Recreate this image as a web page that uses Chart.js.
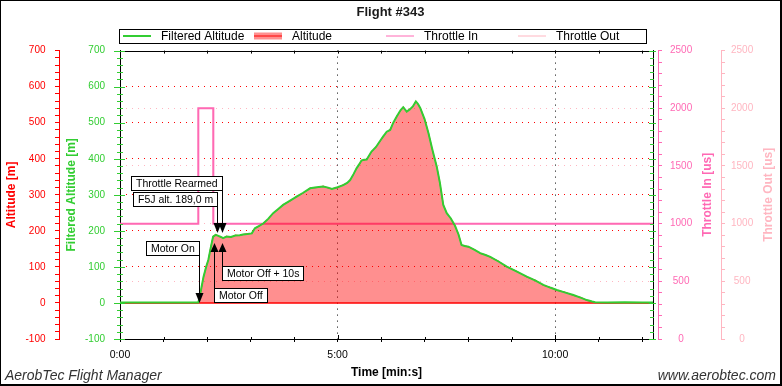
<!DOCTYPE html>
<html>
<head>
<meta charset="utf-8">
<title>Flight #343</title>
<script src="https://cdn.jsdelivr.net/npm/chart.js@4.4.1/dist/chart.umd.min.js"></script>
<style>
  body { margin: 0; background: #fff; }
  #frame {
    position: relative;
    width: 782px;
    height: 386px;
    box-sizing: border-box;
    border: 1px solid #000;
    border-right-width: 2px;
    border-bottom-width: 2px;
    background: #fff;
  }
  #flightChart { display: block; }
  .footer {
    position: absolute;
    top: 366px;
    font: italic 14px "Liberation Sans", Arial, sans-serif;
    line-height: 16px;
    color: #333;
  }
  #footerLeft { left: 4px; }
  #footerRight { right: 4px; }
</style>
</head>
<body>
<div id="frame">
  <canvas id="flightChart" width="779" height="383"></canvas>
  <div class="footer" id="footerLeft">AerobTec Flight Manager</div>
  <div class="footer" id="footerRight">www.aerobtec.com</div>
</div>
<script>
const FONT = '"Liberation Sans", Arial, sans-serif';
const GREEN = "#32cd32";
const RED = "#ff0000";
const PINK = "#ff69b4";
const LIGHT_PINK = "#ffb6c1";
const ALT_FILL = "rgba(255, 0, 0, 0.44)";
const NONE = "rgba(0, 0, 0, 0)";

const timeMax = 12.25; // minutes shown on the x axis

// Flight log, time in minutes
const timeMin = [
  0, 0.5, 1.0, 1.5, 1.80, 1.86, 1.92, 1.98, 2.03, 2.08, 2.14, 2.20, 2.26, 2.32, 2.37,
  2.45, 2.55, 2.65, 2.75, 2.83, 2.93, 3.03, 3.10, 3.20, 3.30,
  3.41, 3.52, 3.63, 3.75, 3.90, 4.06, 4.20, 4.37, 4.52, 4.67,
  4.78, 4.87, 5.00, 5.13, 5.22, 5.29, 5.37, 5.44, 5.50, 5.55,
  5.61, 5.67, 5.78, 5.88, 5.98, 6.05, 6.13, 6.21, 6.28, 6.36,
  6.45, 6.51, 6.59, 6.66, 6.73, 6.80, 6.85, 6.90, 7.00, 7.09,
  7.18, 7.28, 7.35, 7.43, 7.51, 7.60, 7.70, 7.78, 7.85, 7.92,
  8.01, 8.15, 8.28, 8.40, 8.51, 8.70, 8.89, 9.10, 9.35, 9.55,
  9.73, 9.90, 10.04, 10.20, 10.42, 10.60, 10.73, 10.85, 10.92, 11.2,
  11.6, 12.0, 12.25
];
const filteredAltitude = [
  1, 1, 1, 1, 1, 35, 73, 100, 119, 150, 184, 189, 186, 183, 180,
  184, 183, 187, 188, 190, 191, 193, 207, 214, 221,
  234, 249, 260, 272, 283, 295, 305, 318, 321, 323,
  320, 316, 321, 327, 333, 341, 358, 374, 385, 395,
  397, 398, 420, 432, 450, 462, 475, 480, 500, 517,
  535, 543, 531, 537, 545, 559, 552, 541, 510, 471,
  425, 378, 335, 272, 249, 235, 214, 190, 161, 158,
  156, 147, 138, 133, 128, 115, 101, 88, 73, 62,
  50, 42, 36, 30, 22, 14, 8, 4, 2, 1,
  2, 1, 1
];
const altitude = [
  0, 0, 0, 0, 0, 34, 72, 101, 120, 151, 185, 190, 186, 182, 180,
  185, 182, 188, 187, 190, 192, 193, 208, 213, 222,
  233, 250, 259, 273, 282, 296, 304, 319, 320, 324,
  319, 317, 320, 328, 332, 342, 357, 375, 384, 396,
  396, 399, 419, 433, 449, 463, 474, 481, 499, 518,
  534, 544, 530, 538, 544, 560, 551, 542, 509, 472,
  424, 379, 334, 273, 248, 236, 213, 191, 160, 159,
  155, 148, 137, 134, 127, 116, 100, 89, 72, 63,
  49, 43, 35, 31, 21, 15, 7, 4, 1, 0,
  1, 0, 0
];

const throttleTime = [0, 1.80, 1.80, 2.145, 2.145, 12.25];
const throttleIn = [1000, 1000, 2000, 2000, 1000, 1000];
const throttleOut = [1000, 1000, 2000, 2000, 1000, 1000];

const legendLabels = ["Filtered Altitude", "Altitude", "Throttle In", "Throttle Out"];

// Event markers
const markerLabels = ["Motor On", "Motor Off", "Motor Off + 10s", "F5J alt. 189,0 m", "Throttle Rearmed"];
const markerTimes = [1.81, 2.17, 2.34, 2.23, 2.34];
const markerAltitudes = [0, 166, 166, 195, 195];
const markerPointsDown = [true, false, false, true, true];
// vertical distance of each label box from its arrow tip (px)
const markerBoxOffsets = [-62, 45, 23, -41, -57];

function toPoints(xs, ys) {
  return xs.map((x, i) => ({ x: x, y: ys[i] }));
}

function crisp(v) {
  return Math.round(v) + 0.5;
}

function tickFont(size) {
  return { family: FONT, size: size };
}

function titleFont() {
  return { family: FONT, size: 12, weight: "bold" };
}

// grid colour only on round values, skipping the frame edges
function gridAt(step, lo, hi, color) {
  return function (c) {
    const v = c.tick ? c.tick.value : NaN;
    return Math.abs(v % step) < 1e-6 && v > lo && v < hi ? color : NONE;
  };
}

// Ticks drawn across the plot frame, right axis titles, legend box and event markers
const flightExtras = {
  id: "flightExtras",
  afterDraw(chart) {
    const ctx = chart.ctx;
    const area = chart.chartArea;
    ctx.save();
    ctx.lineWidth = 1;

    // top frame line
    ctx.strokeStyle = "#000";
    ctx.beginPath();
    ctx.moveTo(area.left, crisp(area.top));
    ctx.lineTo(area.right, crisp(area.top));
    ctx.stroke();

    // minute ticks pointing into the plot
    const xScale = chart.scales.x;
    ctx.beginPath();
    xScale.ticks.forEach((t) => {
      const px = crisp(xScale.getPixelForValue(t.value));
      const major = t.value % 5 === 0;
      ctx.moveTo(px, area.top);
      ctx.lineTo(px, area.top + 3);
      ctx.moveTo(px, area.bottom);
      ctx.lineTo(px, area.bottom - (major ? 4 : 2));
    });
    ctx.stroke();

    // filtered altitude ticks on both sides of the plot
    const fScale = chart.scales.falt;
    ctx.strokeStyle = GREEN;
    ctx.beginPath();
    fScale.ticks.forEach((t) => {
      const py = crisp(fScale.getPixelForValue(t.value));
      const major = t.value % 100 === 0;
      ctx.moveTo(area.left - (major ? 6 : 3), py);
      ctx.lineTo(area.left + (major ? 5 : 3), py);
      ctx.moveTo(area.right - (major ? 4 : 3), py);
      ctx.lineTo(area.right + (major ? 3 : 1), py);
    });
    ctx.stroke();

    drawRightTitle(chart, chart.scales.thrIn, "Throttle In [us]", PINK, 13.7);
    drawRightTitle(chart, chart.scales.thrOut, "Throttle Out [us]", LIGHT_PINK, 11);
    drawLegend(chart);
    drawMarkers(chart);
    ctx.restore();
  },
};

// right-hand titles read bottom to top, like the left ones
function drawRightTitle(chart, scale, text, color, inset) {
  const ctx = chart.ctx;
  ctx.save();
  ctx.translate(scale.right - inset, (scale.top + scale.bottom) / 2);
  ctx.rotate(-Math.PI / 2);
  ctx.font = "bold 12px " + FONT;
  ctx.fillStyle = color;
  ctx.textAlign = "center";
  ctx.textBaseline = "middle";
  ctx.fillText(text, 0, 0);
  ctx.restore();
}

function drawLegend(chart) {
  const ctx = chart.ctx;
  const area = chart.chartArea;
  const left = Math.round(area.left) - 0.5;
  const top = 28.5;
  const width = Math.round(area.right - area.left) - 6;
  const height = 14;
  const cy = top + 6.5;
  const slot = width / legendLabels.length;

  ctx.fillStyle = "#fff";
  ctx.fillRect(left, top, width, height);
  ctx.strokeStyle = "#000";
  ctx.lineWidth = 1;
  ctx.strokeRect(left, top, width, height);

  ctx.font = "12px " + FONT;
  ctx.textBaseline = "middle";
  ctx.textAlign = "left";
  legendLabels.forEach((label, i) => {
    const x0 = Math.round(left + 3 + i * slot);
    if (i === 0) {
      ctx.strokeStyle = GREEN;
      ctx.lineWidth = 2;
    } else if (i === 1) {
      ctx.fillStyle = ALT_FILL;
      ctx.fillRect(x0, cy - 3.5, 28, 7);
      ctx.strokeStyle = RED;
      ctx.lineWidth = 1;
    } else {
      ctx.strokeStyle = i === 2 ? PINK : LIGHT_PINK;
      ctx.lineWidth = 1;
    }
    ctx.beginPath();
    ctx.moveTo(x0, cy);
    ctx.lineTo(x0 + 28, cy);
    ctx.stroke();
    ctx.fillStyle = "#000";
    ctx.fillText(label, x0 + 38, cy + 0.5);
  });
}

function drawMarkers(chart) {
  const ctx = chart.ctx;
  const xScale = chart.scales.x;
  const yScale = chart.scales.alt;
  ctx.font = "10.5px " + FONT;
  ctx.textBaseline = "middle";
  ctx.textAlign = "left";
  ctx.lineWidth = 1;
  ctx.strokeStyle = "#000";

  markerLabels.forEach((label, i) => {
    const x = crisp(xScale.getPixelForValue(markerTimes[i]));
    const tip = Math.round(yScale.getPixelForValue(markerAltitudes[i]));
    const down = markerPointsDown[i];
    const boxW = Math.round(ctx.measureText(label).width + 9);
    const boxH = 14;
    const boxTop = crisp(tip + markerBoxOffsets[i]);
    const boxLeft = down ? x - boxW : x;

    // stem and arrow head
    ctx.fillStyle = "#000";
    ctx.beginPath();
    if (down) {
      ctx.moveTo(x, boxTop);
      ctx.lineTo(x, tip - 9);
    } else {
      ctx.moveTo(x, tip + 9);
      ctx.lineTo(x, boxTop + boxH);
    }
    ctx.stroke();
    ctx.beginPath();
    if (down) {
      ctx.moveTo(x - 4, tip - 10);
      ctx.lineTo(x + 4, tip - 10);
    } else {
      ctx.moveTo(x - 4, tip + 9);
      ctx.lineTo(x + 4, tip + 9);
    }
    ctx.lineTo(x, tip);
    ctx.closePath();
    ctx.fill();

    // label box
    ctx.fillStyle = "#fff";
    ctx.fillRect(boxLeft, boxTop, boxW, boxH);
    ctx.strokeRect(boxLeft, boxTop, boxW, boxH);
    ctx.fillStyle = "#000";
    ctx.fillText(label, boxLeft + 4.5, boxTop + boxH / 2 + 0.5);
  });
}

const ctx = document.getElementById("flightChart").getContext("2d");

new Chart(ctx, {
  type: "line",
  data: {
    datasets: [
      {
        label: "Filtered Altitude",
        data: toPoints(timeMin, filteredAltitude),
        yAxisID: "falt",
        borderColor: GREEN,
        borderWidth: 2,
        pointRadius: 0,
        fill: false,
      },
      {
        label: "Altitude zero",
        data: toPoints([0, timeMax], [0, 0]),
        yAxisID: "alt",
        borderColor: RED,
        borderWidth: 1.5,
        pointRadius: 0,
        fill: false,
      },
      {
        label: "Altitude",
        data: toPoints(timeMin, altitude),
        yAxisID: "alt",
        borderColor: RED,
        borderWidth: 1,
        backgroundColor: ALT_FILL,
        pointRadius: 0,
        fill: "origin",
      },
      {
        label: "Throttle In",
        data: toPoints(throttleTime, throttleIn),
        yAxisID: "thrIn",
        borderColor: PINK,
        borderWidth: 2,
        pointRadius: 0,
        fill: false,
      },
      {
        label: "Throttle Out",
        data: toPoints(throttleTime, throttleOut),
        yAxisID: "thrOut",
        borderColor: LIGHT_PINK,
        borderWidth: 1,
        pointRadius: 0,
        fill: false,
      },
    ],
  },
  options: {
    responsive: false,
    animation: false,
    devicePixelRatio: 1,
    events: [],
    elements: { line: { tension: 0 } },
    layout: { padding: 0 },
    plugins: {
      legend: { display: false },
      tooltip: { enabled: false },
      title: {
        display: true,
        text: "Flight #343",
        color: "#1a1a1a",
        font: { family: FONT, size: 13, weight: "bold" },
        padding: { top: 4, bottom: 30 },
      },
    },
    scales: {
      x: {
        type: "linear",
        min: 0,
        max: timeMax,
        afterFit: (s) => { s.height = 45; },
        grid: {
          color: gridAt(5, 0, timeMax, "#000"),
          tickColor: "#000",
          tickLength: 3,
        },
        border: { color: "#000", dash: [1, 5] },
        ticks: {
          stepSize: 1,
          autoSkip: false,
          includeBounds: false,
          maxRotation: 0,
          padding: 7,
          color: "#000",
          font: tickFont(10.5),
          callback: (v) => (v % 5 === 0 ? v + ":00" : ""),
        },
        title: {
          display: true,
          text: "Time [min:s]",
          color: "#000",
          font: titleFont(),
          padding: { top: 0, bottom: 4 },
        },
      },
      falt: {
        position: "left",
        min: -100,
        max: 700,
        afterFit: (s) => { s.width = 61; },
        grid: { display: false, drawTicks: false },
        border: { color: "#000" },
        ticks: {
          stepSize: 20,
          autoSkip: false,
          padding: 15,
          color: GREEN,
          font: tickFont(10),
          callback: (v) => (v % 100 === 0 ? v : ""),
        },
        title: {
          display: true,
          text: "Filtered Altitude [m]",
          color: GREEN,
          font: titleFont(),
          padding: { top: 5.5, bottom: 0 },
        },
      },
      alt: {
        position: "left",
        min: -100,
        max: 700,
        afterFit: (s) => { s.width = 58; },
        grid: {
          drawOnChartArea: false,
          color: RED,
          tickLength: 4,
        },
        border: { color: RED },
        ticks: {
          stepSize: 20,
          autoSkip: false,
          padding: 9.5,
          color: RED,
          font: tickFont(10),
          callback: (v) => (v % 100 === 0 ? v : ""),
        },
        title: {
          display: true,
          text: "Altitude [m]",
          color: RED,
          font: titleFont(),
          padding: { top: 3.8, bottom: 0 },
        },
      },
      // thin axis on the right edge of the plot, carries the altitude grid
      faltR: {
        position: "right",
        min: -100,
        max: 700,
        afterFit: (s) => { s.width = 5; },
        grid: {
          display: true,
          drawTicks: false,
          drawOnChartArea: true,
          color: gridAt(100, 0, 700, RED),
        },
        border: { color: "#000", dash: [1, 5] },
        ticks: { display: false, stepSize: 20, autoSkip: false },
      },
      thrIn: {
        position: "right",
        min: 0,
        max: 2500,
        afterFit: (s) => { s.width = 63; },
        grid: { drawOnChartArea: false, color: PINK, tickLength: 4 },
        border: { color: PINK },
        ticks: {
          stepSize: 100,
          autoSkip: false,
          crossAlign: "center",
          padding: 8,
          color: PINK,
          font: tickFont(10),
          callback: (v) => (v % 500 === 0 ? v : ""),
        },
      },
      thrOut: {
        position: "right",
        min: 0,
        max: 2500,
        afterFit: (s) => { s.width = 59; },
        grid: {
          color: gridAt(500, 0, 2500, LIGHT_PINK),
          tickColor: LIGHT_PINK,
          tickLength: 4,
        },
        border: { color: LIGHT_PINK, dash: [1, 5] },
        ticks: {
          stepSize: 100,
          autoSkip: false,
          crossAlign: "center",
          padding: 6,
          color: LIGHT_PINK,
          font: tickFont(10),
          callback: (v) => (v % 500 === 0 ? v : ""),
        },
      },
    },
  },
  plugins: [flightExtras],
});
</script>
</body>
</html>
